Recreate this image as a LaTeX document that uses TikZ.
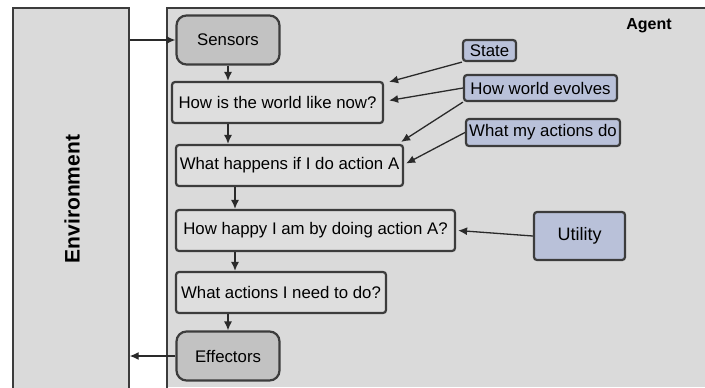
\documentclass[tikz,border=0pt]{standalone}
\usepackage{fontspec}
\setmainfont{Liberation Sans}
\usepackage{tikz}
\usetikzlibrary{arrows.meta}

\tikzset{
	frage/.style={draw=rand, line width=1.1pt, rounded corners=1.5pt, fill=kasten, inner sep=0pt, font=\fontsize{8.4}{10}\selectfont},
	sensor/.style={draw=rand, line width=1.1pt, rounded corners=5pt, fill=dunkel, inner sep=0pt, minimum width=51.5pt, minimum height=24.5pt, font=\fontsize{8.4}{10}\selectfont},
	wissen/.style={draw=rand, line width=1.1pt, rounded corners=1.5pt, fill=blau, inner sep=0pt, font=\fontsize{8.4}{10}\selectfont},
	pfeil/.style={-{Latex[length=4.5pt,width=4pt]}, line width=0.65pt, draw=linie},
}

\begin{document}
\begin{tikzpicture}[x=0.5pt,y=-0.5pt]

		\definecolor{rand}{HTML}{3C3C3C}
		\definecolor{linie}{HTML}{2A2A2A}
		\definecolor{flaeche}{HTML}{DADADA}
		\definecolor{kasten}{HTML}{DEDEDE}
		\definecolor{dunkel}{HTML}{C2C2C2}
		\definecolor{blau}{HTML}{B9C1D9}

		\useasboundingbox (0,0) rectangle (705,387);
		\fill[white] (0,0) rectangle (705,387);

		% Agent
		\fill[flaeche] (167,8) rectangle (705,387);
		\draw[rand, line width=0.7pt] (705,8) -- (167,8) -- (167,390);
		\node[font=\fontsize{8}{10}\selectfont\bfseries] (agent) at (649,26) {Agent};

		% Umgebung
		\node[draw=rand, fill=flaeche, line width=0.7pt, minimum width=58pt, minimum height=191pt, inner sep=0pt] (umgebung) at (71,199) {};
		\node[rotate=90, font=\fontsize{10.5}{12}\selectfont\bfseries] (env) at (72,199) {Environment};

		% Kaesten
		\node[sensor] (sensors) at (228,40) {Sensors};
		\node[frage, minimum width=105.5pt, minimum height=20.5pt] (welt) at (277.5,102.5) {How is the world like now?};
		\node[frage, minimum width=113.5pt, minimum height=20.5pt] (wasist) at (289.5,165.5) {What happens if I do action A};
		\node[frage, minimum width=139.5pt, minimum height=20.5pt] (gluecklich) at (315.5,230.5) {How happy I am by doing action A?};
		\node[frage, minimum width=105pt, minimum height=20.5pt] (aktionen) at (281,292.5) {What actions I need to do?};
		\node[sensor] (effectors) at (228,356) {Effectors};

		% Wissen
		\node[wissen, minimum width=26.5pt, minimum height=10.5pt] (zustand) at (489.5,50.5) {State};
		\node[wissen, minimum width=76.5pt, minimum height=13pt] (entwicklung) at (540.5,88) {How world evolves};
		\node[wissen, minimum width=77pt, minimum height=13.5pt] (wirkung) at (543,132.5) {What my actions do};
		\node[wissen, minimum width=45.5pt, minimum height=24pt, font=\fontsize{9}{10}\selectfont] (utility) at (579.5,236) {Utility};

		% Pfeile
		\draw[pfeil] (umgebung.east |- sensors.west) -- (sensors.west);
		\draw[pfeil] (sensors.south) -- (sensors.south |- welt.north);
		\draw[pfeil] (sensors.south |- welt.south) -- (sensors.south |- wasist.north);
		\draw[pfeil] ([xshift=3.5pt]sensors.south |- wasist.south) -- ([xshift=3.5pt]sensors.south |- gluecklich.north);
		\draw[pfeil] ([xshift=3.5pt]sensors.south |- gluecklich.south) -- ([xshift=3.5pt]sensors.south |- aktionen.north);
		\draw[pfeil] (effectors.north |- aktionen.south) -- (effectors.north);
		\draw[pfeil] (effectors.west) -- (effectors.west -| umgebung.east);

		\draw[pfeil] (zustand.south west) -- ([shift={(5,1)}]welt.north east);
		\draw[pfeil] (entwicklung.west) -- ([shift={(5,-2)}]welt.east);
		\draw[pfeil] (entwicklung.south west) -- ([shift={(-3,-2)}]wasist.north east);
		\draw[pfeil] (wirkung.west) -- ([shift={(2,-2)}]wasist.east);
		\draw[pfeil] (utility.west) -- ([shift={(2,0)}]gluecklich.east);

	\end{tikzpicture}
\end{document}
